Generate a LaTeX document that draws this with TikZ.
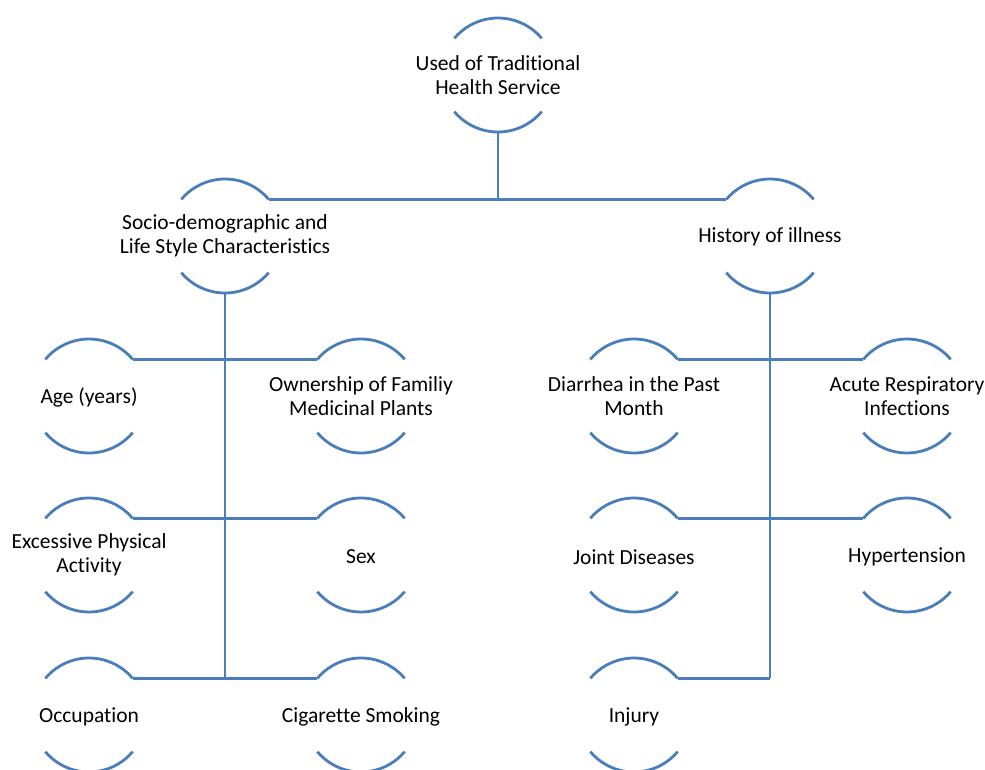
\documentclass[tikz,border=0pt]{standalone}
\usepackage{fontspec}
\setmainfont{Carlito}[Ligatures=NoCommon]
\usepackage{tikz}
\definecolor{ringblue}{RGB}{74,126,187}

\begin{document}
\begin{tikzpicture}[x=1pt,y=1pt,
    ring/.style={align=center, inner sep=0pt, font=\fontsize{21.5}{24}\selectfont},
    link/.style={draw=ringblue, line width=2.8pt}]
        \useasboundingbox (0,0) rectangle (985,-769);
        % top and second level
        \node[ring] (top) at (498,-75) {Used of Traditional\\Health Service};
        \node[ring] (socio) at (225,-236) {Socio-demographic and\\Life Style Characteristics};
        \node[ring] (hist) at (770,-237) {History of illness};
        % left branch
        \node[ring] (age) at (89,-397) {Age (years)};
        \node[ring] (own) at (361,-396) {Ownership of Familiy\\Medicinal Plants};
        \node[ring] (exc) at (89,-555) {Excessive Physical\\Activity};
        \node[ring] (sex) at (361,-557) {Sex};
        \node[ring] (occ) at (89,-717) {Occupation};
        \node[ring] (cig) at (361,-717) {Cigarette Smoking};
        % right branch
        \node[ring] (diar) at (634,-396) {Diarrhea in the Past\\Month};
        \node[ring] (ari) at (907,-396) {Acute Respiratory\\Infections};
        \node[ring] (joint) at (634,-557) {Joint Diseases};
        \node[ring] (hyp) at (907,-557) {Hypertension};
        \node[ring] (inj) at (634,-717) {Injury};
        % open rings round the texts
        \foreach \n/\cy in {top/-75,socio/-236,hist/-236,age/-396,own/-396,exc/-555,sex/-555,occ/-715,cig/-715,diar/-396,ari/-396,joint/-555,hyp/-555,inj/-715} {
          \coordinate (\n-c) at (\n.center |- 0,\cy);
          \coordinate (\n-r) at ([shift={(40:57)}]\n-c);
          \coordinate (\n-l) at ([shift={(140:57)}]\n-c);
          \coordinate (\n-b) at ([shift={(270:57)}]\n-c);
          \draw[link] (\n-r) arc[start angle=40, end angle=140, radius=57]
            ([shift={(220:57)}]\n-c) arc[start angle=220, end angle=320, radius=57];
        }
        % connectors
        \draw[link] (socio-r) -- (hist-l);
        \draw[link] (top-b) -- (top-b |- socio-r);
        \draw[link] (socio-b) -- (socio-b |- occ-r);
        \draw[link] (age-r) -- (own-l);
        \draw[link] (exc-r) -- (sex-l);
        \draw[link] (occ-r) -- (cig-l);
        \draw[link] (hist-b) -- (hist-b |- inj-r);
        \draw[link] (diar-r) -- (ari-l);
        \draw[link] (joint-r) -- (hyp-l);
        \draw[link] (inj-r) -- (inj-r -| hist-b);
\end{tikzpicture}
\end{document}
